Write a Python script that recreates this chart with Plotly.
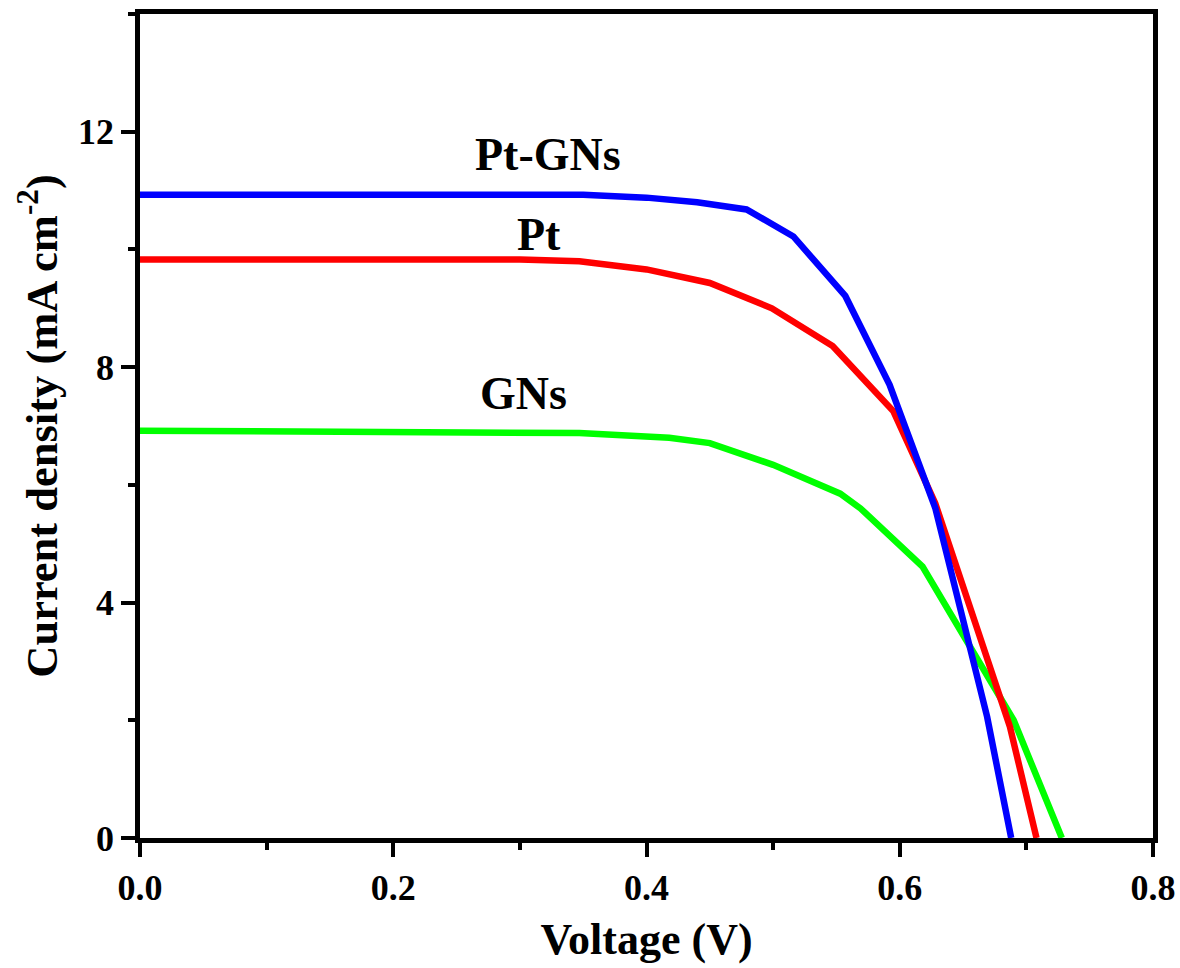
import plotly.graph_objects as go

# Pt-GNs (blue)
v_ptgns = [0.0, 0.35, 0.40, 0.44, 0.479, 0.516, 0.557, 0.592, 0.628, 0.669, 0.688]
j_ptgns = [10.93, 10.93, 10.88, 10.80, 10.68, 10.22, 9.21, 7.70, 5.61, 2.06, 0.0]

# Pt (red)
v_pt = [0.0, 0.30, 0.347, 0.40, 0.45, 0.499, 0.547, 0.595, 0.628, 0.687, 0.708]
j_pt = [9.83, 9.83, 9.80, 9.66, 9.43, 9.00, 8.36, 7.25, 5.69, 1.89, 0.0]

# GNs (green)
v_gns = [0.0, 0.20, 0.347, 0.418, 0.45, 0.50, 0.553, 0.569, 0.618, 0.69, 0.728]
j_gns = [6.92, 6.91, 6.88, 6.80, 6.71, 6.34, 5.85, 5.60, 4.61, 2.00, 0.0]

labels = ["Pt-GNs", "Pt", "GNs"]
label_v = [0.322, 0.315, 0.303]
label_j = [11.62, 10.25, 7.56]

FONT = "Liberation Serif, Times New Roman, serif"

fig = go.Figure()
for v, j, c, n in [(v_gns, j_gns, "#00ff00", "GNs"),
                   (v_pt, j_pt, "#ff0000", "Pt"),
                   (v_ptgns, j_ptgns, "#0000ff", "Pt-GNs")]:
    fig.add_trace(go.Scatter(x=v, y=j, mode="lines", name=n,
                             line=dict(color=c, width=6.5)))

for t, x, y in zip(labels, label_v, label_j):
    fig.add_annotation(x=x, y=y, text=t, showarrow=False,
                       font=dict(family=FONT, size=46, color="black", weight="bold"),
                       xanchor="center", yanchor="middle")

axis_common = dict(
    showline=True, linewidth=4.5, linecolor="black", mirror=True,
    ticks="outside", ticklen=14, tickwidth=3.5, tickcolor="black",
    showgrid=False, zeroline=False, automargin=False,
    tickfont=dict(family=FONT, size=36, color="black", weight="bold"),
)

fig.update_xaxes(range=[0, 0.8], dtick=0.2, tick0=0, tickformat=".1f",
                 minor=dict(ticks="outside", ticklen=7, tickwidth=3.5, tickcolor="black", dtick=0.1),
                 title=dict(text="Voltage (V)", standoff=18,
                            font=dict(family=FONT, size=44, color="black", weight="bold")),
                 **axis_common)
fig.update_yaxes(range=[0, 14], dtick=4, tick0=0,
                 minor=dict(ticks="outside", ticklen=7, tickwidth=3.5, tickcolor="black", dtick=2),
                 title=dict(text="Current density (mA cm<sup>-2</sup>)", standoff=8,
                            font=dict(family=FONT, size=44.5, color="black", weight="bold")),
                 **axis_common)

fig.update_layout(
    width=1180, height=968,
    margin=dict(l=140, r=27, t=14, b=130, autoexpand=False),
    plot_bgcolor="white", paper_bgcolor="white",
    showlegend=False,
)

fig.write_html("out.html")
